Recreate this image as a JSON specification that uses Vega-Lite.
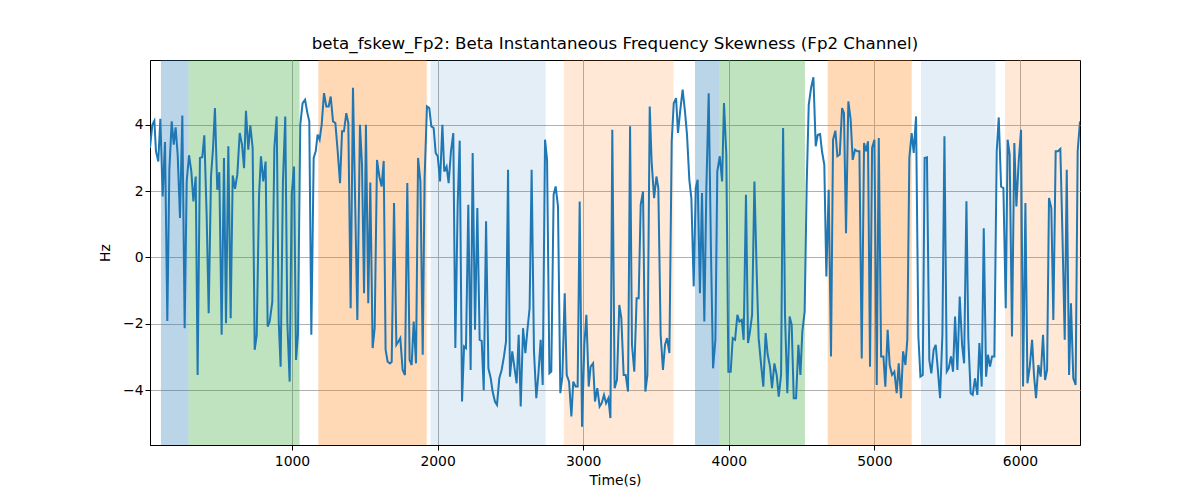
{
  "$schema": "https://vega.github.io/schema/vega-lite/v6.json",
  "autosize": {"type": "none"},
  "width": 930,
  "height": 385,
  "padding": {"left": 150, "top": 60, "right": 120, "bottom": 55},
  "background": "white",
  "config": {
    "font": "DejaVu Sans",
    "view": {"stroke": "black", "strokeWidth": 1},
    "axis": {
      "domainColor": "black",
      "tickColor": "black",
      "tickSize": 5,
      "labelFontSize": 13.9,
      "labelColor": "black",
      "titleFontSize": 13.9,
      "titleFontWeight": "normal",
      "titleColor": "black",
      "gridColor": "#b0b0b0",
      "gridWidth": 1,
      "zindex": 1
    }
  },
  "title": {
    "text": "beta_fskew_Fp2: Beta Instantaneous Frequency Skewness (Fp2 Channel)",
    "fontSize": 16.67,
    "fontWeight": "normal",
    "color": "black",
    "anchor": "middle",
    "offset": 7
  },
  "datasets": {
    "bands": [
      {"start": 100, "end": 290, "state": "A"},
      {"start": 290, "end": 1052, "state": "B"},
      {"start": 1181, "end": 1925, "state": "C"},
      {"start": 1952, "end": 2742, "state": "D"},
      {"start": 2867, "end": 3620, "state": "E"},
      {"start": 3768, "end": 3934, "state": "A"},
      {"start": 3934, "end": 4523, "state": "B"},
      {"start": 4679, "end": 5256, "state": "C"},
      {"start": 5320, "end": 5832, "state": "D"},
      {"start": 5897, "end": 6412, "state": "E"}
    ],
    "series": [
      {"t":25,"v":3.30},{"t":41,"v":4.0},{"t":55,"v":4.12},{"t":66,"v":3.20},{"t":82,"v":2.89},{"t":96,"v":4.18},{"t":112,"v":1.84},{"t":128,"v":3.48},{"t":144,"v":-1.91},{"t":158,"v":2.64},
      {"t":174,"v":4.10},{"t":188,"v":3.40},{"t":201,"v":3.92},{"t":215,"v":3.10},{"t":231,"v":1.19},{"t":247,"v":4.28},{"t":263,"v":-2.13},{"t":277,"v":2.29},{"t":293,"v":3.08},{"t":309,"v":2.59},
      {"t":323,"v":1.69},{"t":339,"v":2.44},{"t":352,"v":-3.54},{"t":368,"v":3.0},{"t":384,"v":3.02},{"t":398,"v":3.68},{"t":414,"v":1.29},{"t":428,"v":-1.68},{"t":444,"v":2.44},{"t":458,"v":3.30},
      {"t":471,"v":4.50},{"t":487,"v":2.04},{"t":501,"v":2.57},{"t":517,"v":-2.33},{"t":533,"v":3.0},{"t":547,"v":-1.98},{"t":563,"v":3.35},{"t":579,"v":-1.83},{"t":593,"v":2.47},{"t":609,"v":2.07},
      {"t":625,"v":2.51},{"t":641,"v":3.75},{"t":657,"v":3.40},{"t":671,"v":2.69},{"t":684,"v":4.42},{"t":700,"v":3.25},{"t":714,"v":3.98},{"t":730,"v":3.30},{"t":744,"v":-2.78},{"t":758,"v":-2.33},
      {"t":774,"v":1.89},{"t":787,"v":3.05},{"t":803,"v":2.29},{"t":819,"v":2.89},{"t":833,"v":-2.08},
      {"t":847,"v":-1.93},{"t":865,"v":-1.33},{"t":879,"v":3.30},{"t":895,"v":4.25},{"t":909,"v":-1.93},{"t":922,"v":-3.29},{"t":938,"v":2.29},{"t":954,"v":4.25},{"t":968,"v":-1.93},{"t":984,"v":-3.74},
      {"t":998,"v":1.89},{"t":1014,"v":2.74},{"t":1028,"v":-3.09},{"t":1041,"v":-2.33},{"t":1057,"v":4.0},{"t":1073,"v":4.65},{"t":1090,"v":4.75},{"t":1106,"v":4.35},{"t":1119,"v":4.10},{"t":1133,"v":-2.33},
      {"t":1149,"v":3.0},{"t":1163,"v":3.20},{"t":1176,"v":3.70},{"t":1190,"v":3.55},{"t":1204,"v":4.0},{"t":1220,"v":4.95},{"t":1236,"v":4.55},{"t":1252,"v":4.55},{"t":1266,"v":4.85},{"t":1282,"v":4.10},
      {"t":1298,"v":4.05},{"t":1314,"v":3.20},{"t":1330,"v":2.24},{"t":1344,"v":3.80},{"t":1357,"v":3.80},{"t":1373,"v":4.35},{"t":1387,"v":4.05},{"t":1403,"v":-1.53},{"t":1419,"v":5.11},{"t":1433,"v":1.89},
      {"t":1449,"v":-1.88},{"t":1467,"v":4.0},{"t":1481,"v":2.79},{"t":1495,"v":-1.08},{"t":1508,"v":4.0},{"t":1524,"v":-1.38},{"t":1538,"v":2.26},{"t":1554,"v":-2.73},{"t":1568,"v":-2.13},{"t":1584,"v":2.94},
      {"t":1600,"v":2.44},{"t":1616,"v":2.14},{"t":1630,"v":2.91},{"t":1643,"v":-2.78},{"t":1657,"v":-3.14},{"t":1673,"v":-3.19},
      {"t":1685,"v":-3.14},{"t":1701,"v":1.64},{"t":1717,"v":-2.63},{"t":1731,"v":-2.53},{"t":1744,"v":-2.43},{"t":1760,"v":-3.39},{"t":1776,"v":-3.54},{"t":1792,"v":2.24},{"t":1808,"v":-3.09},{"t":1822,"v":-3.24},
      {"t":1836,"v":-1.93},{"t":1852,"v":-3.19},{"t":1866,"v":3.0},{"t":1882,"v":2.29},{"t":1898,"v":-2.93},{"t":1911,"v":2.39},{"t":1927,"v":4.55},{"t":1943,"v":4.50},{"t":1957,"v":3.95},{"t":1973,"v":3.90},
      {"t":1987,"v":3.15},{"t":2001,"v":3.05},{"t":2017,"v":2.29},{"t":2033,"v":4.0},{"t":2046,"v":2.59},{"t":2062,"v":2.74},{"t":2076,"v":2.24},{"t":2092,"v":3.20},{"t":2108,"v":3.75},{"t":2122,"v":-2.73},
      {"t":2138,"v":1.59},{"t":2152,"v":3.52},{"t":2168,"v":-4.34},{"t":2182,"v":-2.68},{"t":2195,"v":-2.73},{"t":2211,"v":1.59},{"t":2227,"v":-3.39},{"t":2241,"v":3.15},{"t":2257,"v":-2.18},{"t":2273,"v":1.49},
      {"t":2289,"v":-2.48},{"t":2303,"v":-2.51},{"t":2317,"v":-4.0},{"t":2333,"v":1.09},{"t":2349,"v":-3.34},{"t":2365,"v":-3.64},{"t":2378,"v":-4.04},{"t":2394,"v":-4.34},{"t":2408,"v":-4.44},{"t":2424,"v":-3.64},
      {"t":2440,"v":-3.39},{"t":2456,"v":-2.98},{"t":2470,"v":-2.53},{"t":2484,"v":2.64},{"t":2497,"v":-3.59},
      {"t":2513,"v":-2.83},{"t":2527,"v":-3.29},{"t":2543,"v":-3.79},{"t":2557,"v":-2.33},{"t":2571,"v":-4.49},{"t":2587,"v":-2.13},{"t":2603,"v":-2.88},{"t":2616,"v":-2.23},{"t":2632,"v":-1.53},{"t":2646,"v":2.64},
      {"t":2662,"v":-2.83},{"t":2678,"v":-4.24},{"t":2692,"v":-3.54},{"t":2708,"v":-2.48},{"t":2722,"v":-3.84},{"t":2738,"v":3.55},{"t":2752,"v":2.94},{"t":2768,"v":-3.49},{"t":2781,"v":-3.44},{"t":2797,"v":1.89},
      {"t":2811,"v":2.14},{"t":2827,"v":1.54},{"t":2843,"v":-4.09},{"t":2857,"v":-3.59},{"t":2873,"v":-1.08},{"t":2887,"v":-3.54},{"t":2903,"v":-3.74},{"t":2919,"v":-4.79},{"t":2932,"v":-3.74},{"t":2948,"v":-3.89},
      {"t":2962,"v":-3.89},{"t":2976,"v":1.69},{"t":2992,"v":-5.10},{"t":3008,"v":-2.63},{"t":3022,"v":-1.73},{"t":3038,"v":-3.89},{"t":3051,"v":-3.29},{"t":3068,"v":-3.19},{"t":3081,"v":-4.34},{"t":3097,"v":-3.94},
      {"t":3113,"v":-4.49},{"t":3127,"v":-4.39},{"t":3143,"v":-4.14},{"t":3157,"v":-4.39},{"t":3173,"v":-4.24},{"t":3187,"v":-4.84},{"t":3200,"v":3.85},{"t":3216,"v":-3.94},{"t":3232,"v":-3.69},{"t":3248,"v":-1.43},
      {"t":3262,"v":-1.83},{"t":3278,"v":-3.54},{"t":3292,"v":-3.54},{"t":3308,"v":-4.04},{"t":3322,"v":3.95},
      {"t":3335,"v":-2.63},{"t":3351,"v":-3.44},{"t":3367,"v":-1.23},{"t":3381,"v":-1.23},{"t":3395,"v":1.59},{"t":3411,"v":1.99},{"t":3427,"v":-4.04},{"t":3441,"v":-3.54},{"t":3457,"v":4.55},{"t":3470,"v":2.89},
      {"t":3487,"v":1.79},{"t":3503,"v":2.44},{"t":3516,"v":2.09},{"t":3532,"v":-2.33},{"t":3548,"v":-3.39},{"t":3562,"v":-2.63},{"t":3576,"v":-2.43},{"t":3592,"v":-2.88},{"t":3608,"v":3.50},{"t":3622,"v":4.65},
      {"t":3638,"v":4.80},{"t":3651,"v":3.75},{"t":3667,"v":4.45},{"t":3683,"v":5.06},{"t":3699,"v":4.40},{"t":3713,"v":3.70},{"t":3729,"v":2.34},{"t":3743,"v":1.79},{"t":3759,"v":-0.87},{"t":3773,"v":2.09},
      {"t":3786,"v":2.34},{"t":3802,"v":-1.08},{"t":3816,"v":1.94},{"t":3832,"v":-1.93},{"t":3846,"v":2.09},{"t":3862,"v":4.95},{"t":3878,"v":0.07},{"t":3892,"v":-3.34},{"t":3908,"v":-2.48},{"t":3921,"v":2.59},
      {"t":3938,"v":3.05},{"t":3954,"v":2.29},{"t":3967,"v":4.65},{"t":3983,"v":3.10},{"t":3997,"v":-3.44},{"t":4013,"v":-3.44},{"t":4027,"v":-2.43},{"t":4043,"v":-2.48},{"t":4059,"v":-1.73},{"t":4073,"v":-1.93},
      {"t":4089,"v":-1.88},{"t":4102,"v":-2.48},{"t":4118,"v":1.89},{"t":4132,"v":-2.58},
      {"t":4144,"v":-2.28},{"t":4160,"v":-1.73},{"t":4176,"v":2.29},{"t":4192,"v":-0.52},{"t":4205,"v":-2.43},{"t":4221,"v":-3.19},{"t":4237,"v":-3.89},{"t":4253,"v":-2.28},{"t":4267,"v":-2.93},{"t":4283,"v":-3.29},
      {"t":4297,"v":-3.94},{"t":4313,"v":-3.19},{"t":4329,"v":-3.54},{"t":4343,"v":-4.19},{"t":4359,"v":-3.54},{"t":4373,"v":3.90},{"t":4386,"v":-1.73},{"t":4402,"v":-4.09},{"t":4418,"v":-1.78},{"t":4432,"v":-2.03},
      {"t":4446,"v":-4.24},{"t":4462,"v":-4.24},{"t":4478,"v":-2.63},{"t":4492,"v":-3.54},{"t":4505,"v":-2.23},{"t":4521,"v":-1.63},{"t":4535,"v":2.19},{"t":4549,"v":4.60},{"t":4565,"v":5.11},{"t":4581,"v":5.43},
      {"t":4597,"v":3.35},{"t":4611,"v":3.70},{"t":4627,"v":3.72},{"t":4640,"v":3.20},{"t":4656,"v":2.79},{"t":4670,"v":-0.57},{"t":4686,"v":2.04},{"t":4702,"v":-2.98},{"t":4716,"v":3.55},{"t":4732,"v":3.82},
      {"t":4746,"v":3.05},{"t":4762,"v":3.10},{"t":4778,"v":4.50},{"t":4791,"v":4.35},{"t":4805,"v":0.73},{"t":4821,"v":4.70},{"t":4837,"v":4.15},{"t":4851,"v":2.94},{"t":4867,"v":3.25},{"t":4883,"v":3.20},
      {"t":4897,"v":3.20},{"t":4913,"v":-3.04},{"t":4929,"v":3.45},{"t":4943,"v":3.20},{"t":4956,"v":3.50},{"t":4970,"v":-3.29},
      {"t":4984,"v":3.30},{"t":5000,"v":3.55},{"t":5016,"v":-3.84},{"t":5030,"v":3.60},{"t":5046,"v":-2.98},{"t":5062,"v":-2.98},{"t":5075,"v":-3.89},{"t":5091,"v":-2.18},{"t":5105,"v":-3.24},{"t":5121,"v":-3.54},
      {"t":5137,"v":-3.44},{"t":5153,"v":-4.09},{"t":5167,"v":-3.19},{"t":5183,"v":-4.24},{"t":5197,"v":-2.83},{"t":5213,"v":-3.24},{"t":5226,"v":-2.48},{"t":5240,"v":3.0},{"t":5256,"v":3.75},{"t":5270,"v":3.15},
      {"t":5286,"v":4.25},{"t":5302,"v":-2.38},{"t":5316,"v":-3.59},{"t":5332,"v":-3.54},{"t":5345,"v":3.0},{"t":5361,"v":3.02},{"t":5377,"v":-3.09},{"t":5391,"v":-3.49},{"t":5407,"v":-2.78},{"t":5421,"v":-2.63},
      {"t":5435,"v":-3.34},{"t":5451,"v":-4.24},{"t":5467,"v":-2.33},{"t":5481,"v":3.65},{"t":5497,"v":-3.44},{"t":5510,"v":-3.34},{"t":5526,"v":-2.98},{"t":5540,"v":-3.44},{"t":5554,"v":-1.78},{"t":5570,"v":-3.39},
      {"t":5586,"v":-1.18},{"t":5602,"v":-2.63},{"t":5616,"v":-3.19},{"t":5632,"v":1.69},{"t":5645,"v":-2.43},{"t":5661,"v":-4.09},{"t":5675,"v":-4.14},{"t":5691,"v":-3.64},{"t":5707,"v":-4.14},{"t":5721,"v":-2.58},
      {"t":5737,"v":-3.89},{"t":5751,"v":0.88},{"t":5767,"v":-3.59},{"t":5780,"v":-2.93},{"t":5794,"v":-3.29},
      {"t":5808,"v":-2.98},{"t":5824,"v":-2.98},{"t":5840,"v":3.20},{"t":5854,"v":4.22},{"t":5870,"v":2.14},{"t":5886,"v":2.09},{"t":5902,"v":-1.53},{"t":5915,"v":3.55},{"t":5929,"v":3.10},{"t":5945,"v":-2.38},
      {"t":5961,"v":3.45},{"t":5975,"v":1.54},{"t":5991,"v":2.89},{"t":6007,"v":3.85},{"t":6021,"v":-3.89},{"t":6037,"v":1.64},{"t":6051,"v":-3.79},{"t":6067,"v":-3.29},{"t":6083,"v":-2.48},{"t":6096,"v":-3.54},
      {"t":6110,"v":-4.24},{"t":6126,"v":-3.24},{"t":6142,"v":-3.59},{"t":6158,"v":-2.33},{"t":6172,"v":-3.69},{"t":6186,"v":-3.39},{"t":6199,"v":1.79},{"t":6215,"v":1.49},{"t":6229,"v":-1.88},{"t":6245,"v":3.20},
      {"t":6261,"v":3.20},{"t":6277,"v":3.27},{"t":6291,"v":0.78},{"t":6307,"v":-2.48},{"t":6321,"v":2.64},{"t":6337,"v":-3.54},{"t":6350,"v":-1.38},{"t":6366,"v":-3.64},{"t":6382,"v":-3.84},{"t":6396,"v":3.20},
      {"t":6412,"v":4.10}
    ]
  },
  "layer": [
    {
      "data": {"name": "bands"},
      "mark": {"type": "rect", "clip": true, "opacity": 1},
      "encoding": {
        "x": {
          "field": "start",
          "type": "quantitative",
          "scale": {"domain": [25, 6412], "nice": false, "zero": false},
          "axis": {"values": [1000, 2000, 3000, 4000, 5000, 6000], "format": "d", "title": "Time(s)", "titlePadding": 6, "labelPadding": 4}
        },
        "x2": {"field": "end"},
        "color": {
          "field": "state",
          "type": "nominal",
          "scale": {
            "domain": ["A", "B", "C", "D", "E"],
            "range": ["rgba(31,119,180,0.31)", "rgba(44,160,44,0.3)", "rgba(255,127,14,0.3)", "rgba(31,119,180,0.12)", "rgba(255,127,14,0.17)"]
          },
          "legend": null
        }
      }
    },
    {
      "data": {"name": "series"},
      "mark": {"type": "line", "color": "#1f77b4", "strokeWidth": 2, "clip": true},
      "encoding": {
        "x": {"field": "t", "type": "quantitative"},
        "y": {
          "field": "v",
          "type": "quantitative",
          "scale": {"domain": [-5.65, 5.95], "nice": false, "zero": false},
          "axis": {"values": [-4, -2, 0, 2, 4], "title": "Hz", "titlePadding": 10, "labelExpr": "replace(datum.label, '-', '\u2212')"}
        }
      }
    }
  ]
}
